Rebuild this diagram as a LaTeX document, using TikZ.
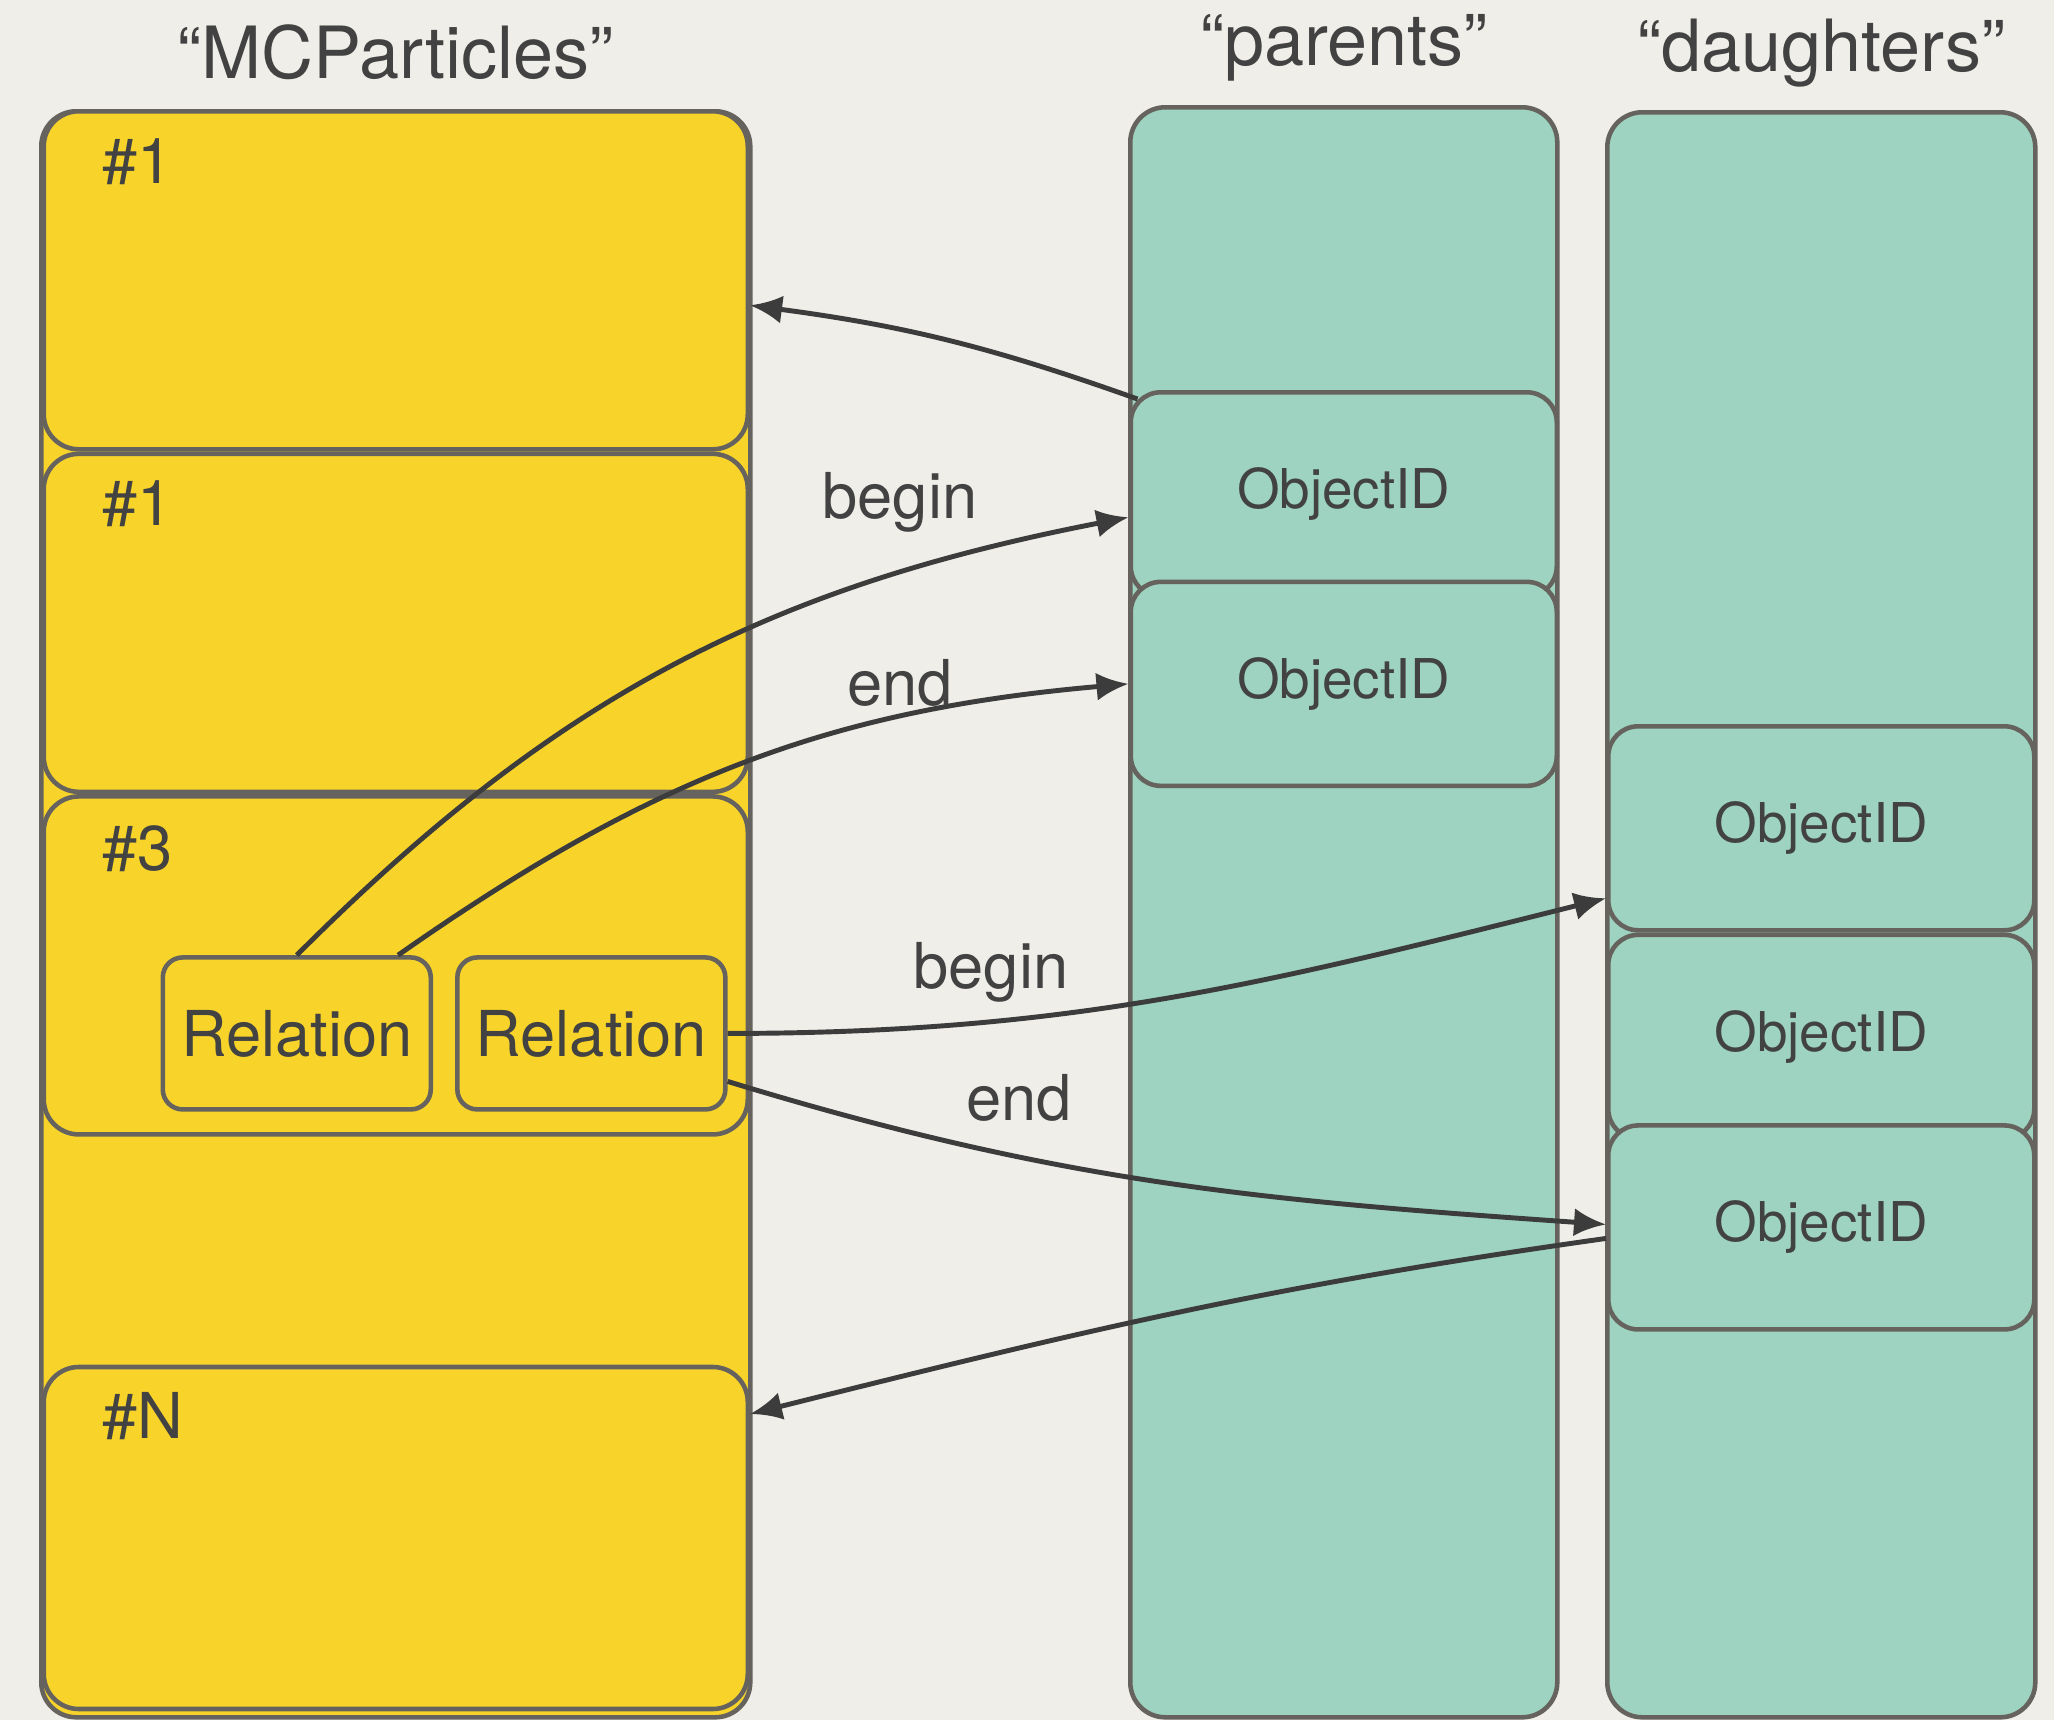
\documentclass[tikz,border=0pt]{standalone}
\usepackage{fontspec}
\setmainfont{TeX Gyre Heros}
\usepackage{tikz}
\usetikzlibrary{arrows.meta,positioning}
\definecolor{gold}{HTML}{F8D42A}
\definecolor{mint}{HTML}{9DD3C0}
\definecolor{rim}{HTML}{66635E}
\definecolor{ink}{HTML}{424242}
\definecolor{wire}{HTML}{3C3C3C}
\definecolor{paper}{HTML}{F0EEE9}
\tikzset{
  column/.style={draw=rim,line width=1.3pt,rounded corners=3.5mm,fill=#1,anchor=north west},
  entry/.style={draw=rim,line width=1.3pt,rounded corners=3.5mm,fill=gold,
    minimum width=70.4mm,minimum height=33.8mm},
  objid/.style={draw=rim,line width=1.3pt,rounded corners=3mm,fill=mint,
    minimum width=42.6mm,minimum height=20.4mm,text=ink,font=\fontsize{15.6}{18}\selectfont},
  relbox/.style={draw=rim,line width=1.3pt,rounded corners=2mm,fill=gold,inner sep=1pt,
    minimum width=26.8mm,minimum height=15.2mm,text=ink,font=\fontsize{18}{21}\selectfont},
  title/.style={anchor=base,text=ink,font=\fontsize{20.5}{24}\selectfont},
  idx/.style={anchor=base west,text=ink,inner sep=0pt,font=\fontsize{18}{21}\selectfont},
  tag/.style={anchor=base,text=ink,inner sep=0pt,font=\fontsize{18}{21}\selectfont},
  link/.style={-{Latex[length=3.2mm,width=2.8mm]},line width=1.4pt,draw=wire}
}
\begin{document}
\begin{tikzpicture}
  \useasboundingbox (0,0) rectangle (20.54,-17.20);
  \fill[paper] (0,0) rectangle (20.54,-17.20);
  % MCParticles collection
  \node[column=gold,minimum width=70.9mm,minimum height=160.6mm] (mccol) at (0.39,-1.09) {};
  \node[title] (mctitle) at ([yshift=3.1mm]mccol.north) {“MCParticles”};
  \node[entry,anchor=north] (e1) at (mccol.north) {};
  \node[entry,below=0pt of e1] (e2) {};
  \node[entry,below=0pt of e2] (e3) {};
  \node[entry,below=22.8mm of e3,minimum height=34.2mm] (eN) {};
  \node[idx] (n1) at ([xshift=6mm,yshift=-7.4mm]e1.north west) {\#1};
  \node[idx] (n2) at ([xshift=6mm,yshift=-7.4mm]e2.north west) {\#1};
  \node[idx] (n3) at ([xshift=6mm,yshift=-7.6mm]e3.north west) {\#3};
  \node[idx] (nN) at ([xshift=6mm,yshift=-7.4mm]eN.north west) {\#N};
  \node[relbox,anchor=south west] (rel1) at ([xshift=11.9mm,yshift=2.5mm]e3.south west) {Relation};
  \node[relbox,right=2.2mm of rel1] (rel2) {Relation};
  % parents collection
  \node[column=mint,minimum width=42.7mm,minimum height=161mm] (parcol) at (11.28,-1.05) {};
  \node[title] (partitle) at ([yshift=4mm]parcol.north) {“parents”};
  \node[objid,anchor=north] (po1) at ([yshift=-28.5mm]parcol.north) {ObjectID};
  \node[objid,below=-1.9mm of po1] (po2) {ObjectID};
  % daughters collection
  \node[column=mint,minimum width=42.8mm,minimum height=160.5mm] (daucol) at (16.05,-1.10) {};
  \node[title] (dautitle) at ([yshift=3.9mm]daucol.north) {“daughters”};
  \node[objid,anchor=north] (do1) at ([yshift=-61.4mm]daucol.north) {ObjectID};
  \node[objid,below=0pt of do1] (do2) {ObjectID};
  \node[objid,below=-1.8mm of do2] (do3) {ObjectID};
  % relations
  \draw[link] ([xshift=0.9mm,yshift=-0.9mm]po1.north west) to[bend right=6] ([yshift=-2.5mm]e1.east);
  \draw[link] (rel1.north) to[out=45,in=191] ([yshift=-2.3mm]po1.west);
  \draw[link] ([xshift=-3.5mm]rel1.north east) to[out=35,in=185] (po2.west);
  \draw[link] (rel2.east) to[out=0,in=194] ([yshift=-7mm]do1.west);
  \draw[link] ([yshift=-4.8mm]rel2.east) to[out=-17,in=176] ([yshift=0.3mm]do3.west);
  \draw[link] ([yshift=-1.1mm]do3.west) to[out=188,in=14] ([yshift=12.4mm]eN.east);
  \node[tag] (lb1) at (9.00,-5.18) {begin};
  \node[tag] (le1) at (9.00,-7.05) {end};
  \node[tag] (lb2) at (9.91,-9.88) {begin};
  \node[tag] (le2) at (10.19,-11.20) {end};
\end{tikzpicture}
\end{document}
